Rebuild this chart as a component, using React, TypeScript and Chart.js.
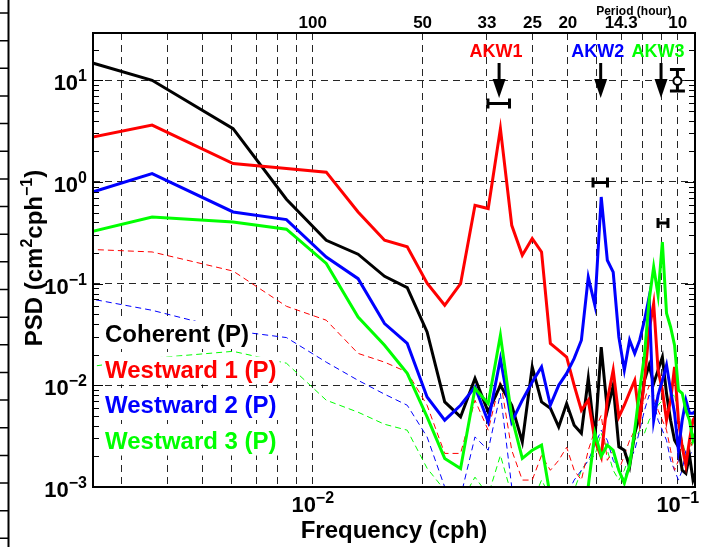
import React, { useEffect, useRef } from 'react';
import { Chart, registerables } from 'chart.js';

Chart.register(...registerables);

const FONT = '"Liberation Sans", Arial, Helvetica, sans-serif';

// Frequency (cph) of each spectral estimate
const FREQ = [
  0.00121, 0.00363, 0.00605, 0.00847, 0.01089, 0.01331, 0.01573, 0.01815, 0.02057, 0.02299,
  0.02541, 0.02783, 0.03025, 0.03267, 0.03509, 0.03751, 0.03993, 0.04235, 0.04477, 0.04719,
  0.04961, 0.05203, 0.05445, 0.05687, 0.05929, 0.06171, 0.06413, 0.06655, 0.06897, 0.07139,
  0.07381, 0.07623, 0.07865, 0.08107, 0.08349, 0.08591, 0.08833, 0.09075, 0.09317, 0.09559,
  0.09801, 0.10043, 0.10285, 0.10527, 0.10769, 0.11011, 0.11253,
];

// PSD (cm^2 cph^-1)
const COHERENT = [
  31.5, 10.0, 3.35, 0.676, 0.267, 0.195, 0.118, 0.0916, 0.0335, 0.00687,
  0.00489, 0.0117, 0.00548, 0.0100, 0.00637, 0.00278, 0.0152, 0.00687, 0.00595, 0.0039,
  0.00662, 0.00405, 0.00338, 0.0117, 0.0030, 0.0238, 0.00569, 0.0100, 0.00248, 0.0023,
  0.00158, 0.00336, 0.00508, 0.0112, 0.0158, 0.0104, 0.0141, 0.0190, 0.0083, 0.00454,
  0.00288, 0.00248, 0.00146, 0.00136, 0.00205, 0.00117, 0.00146,
];
const WEST1 = [
  1.64, 3.63, 1.52, 1.36, 1.25, 0.507, 0.267, 0.230, 0.101, 0.0613,
  0.100, 0.590, 0.548, 3.35, 0.375, 0.190, 0.278, 0.205, 0.0258, 0.0221,
  0.0190, 0.0100, 0.00569, 0.00714, 0.00288, 0.00198, 0.00714, 0.0141, 0.00489, 0.00637,
  0.00855, 0.0112, 0.00454, 0.0112, 0.0348, 0.0637, 0.0141, 0.00895, 0.00454, 0.00714,
  0.0152, 0.00454, 0.00248, 0.00164, 0.00288, 0.00454, 0.00508,
];
const WEST2 = [
  0.356, 1.21, 0.507, 0.427, 0.183, 0.112, 0.0405, 0.0258, 0.00769, 0.00454,
  0.00637, 0.00964, 0.00437, 0.0183, 0.00437, 0.00714, 0.0108, 0.0152, 0.00637, 0.0100,
  0.0131, 0.0184, 0.0278, 0.116, 0.0613, 0.712, 0.170, 0.130, 0.0299, 0.0141,
  0.0278, 0.0206, 0.0278, 0.0437, 0.074, 0.00454, 0.0080, 0.0112, 0.0158, 0.00895,
  0.00532, 0.0023, 0.00454, 0.00714, 0.00532, 0.00532, 0.00569,
];
const WEST3 = [
  0.175, 0.453, 0.404, 0.343, 0.158, 0.047, 0.0248, 0.0131, 0.00489, 0.00191,
  0.00152, 0.0093, 0.00662, 0.0311, 0.00489, 0.00191, 0.0023, 0.00258, 0.0008, 0.0006,
  0.0007, 0.0008, 0.0007, 0.00102, 0.00338, 0.00201, 0.00258, 0.0023, 0.00146, 0.00109,
  0.00164, 0.00362, 0.00895, 0.0198, 0.0687, 0.146, 0.0769, 0.257, 0.0512, 0.0375,
  0.0248, 0.00895, 0.00836, 0.00569, 0.00454, 0.00288, 0.00362,
];
// thin dashed companions
const WEST1_DASH = [
  0.241, 0.205, 0.133, 0.0599, 0.0437, 0.0206, 0.0169, 0.0135, 0.00637, 0.00214,
  0.00214, 0.00714, 0.00362, 0.0112, 0.0023, 0.00117, 0.00117, 0.00205, 0.00146, 0.00183,
  0.00246, 0.00146, 0.00117, 0.0023, 0.00362, 0.00508, 0.00183, 0.0023, 0.00146, 0.00205,
  0.00288, 0.00362, 0.00569, 0.00714, 0.0100, 0.0080, 0.00569, 0.00454, 0.00362, 0.0023,
  0.00146, 0.00183, 0.00288, 0.00183, 0.0023, 0.00288, 0.00288,
];
const WEST2_DASH = [
  0.114, 0.0547, 0.0344, 0.0295, 0.0169, 0.0112, 0.00818, 0.00637, 0.00311, 0.00100,
  0.0008, 0.00311, 0.0023, 0.0083, 0.00100, 0.0007, 0.0007, 0.00093, 0.0008, 0.0008,
  0.00083, 0.00117, 0.00146, 0.00183, 0.00258, 0.00362, 0.00288, 0.00183, 0.00146, 0.00117,
  0.00183, 0.0023, 0.00362, 0.00569, 0.0080, 0.00714, 0.00454, 0.00362, 0.00288, 0.00183,
  0.00146, 0.00117, 0.00146, 0.0023, 0.00205, 0.0023, 0.0023,
];
const WEST3_DASH = [
  0.0108, 0.0185, 0.0216, 0.0165, 0.00714, 0.00544, 0.00414, 0.00362, 0.00153, 0.00093,
  0.0007, 0.00125, 0.00083, 0.00205, 0.00083, 0.0007, 0.0007, 0.00117, 0.0008, 0.0007,
  0.0008, 0.00093, 0.00146, 0.00183, 0.00205, 0.00338, 0.0023, 0.00146, 0.00117, 0.00146,
  0.00205, 0.00288, 0.00362, 0.00338, 0.00454, 0.00532, 0.00637, 0.00714, 0.00569, 0.00714,
  0.00836, 0.00454, 0.00288, 0.00205, 0.00258, 0.00288, 0.00288,
];

// axes
const X_MIN = 0.0025;
const X_MAX = 0.1115;
const Y_MIN = 0.001;
const Y_MAX = 29.2;
const X_GRID = [0.003, 0.004, 0.005, 0.006, 0.007, 0.008, 0.009, 0.01, 0.02, 0.03, 0.04, 0.05, 0.06, 0.07, 0.08, 0.09, 0.1];
const X_LABEL_VALUES = [0.01, 0.1];
const X_LABEL_EXP = ['\u22122', '\u22121'];
const Y_DECADES = [0.001, 0.01, 0.1, 1, 10];
const Y_LABEL_EXP = ['\u22123', '\u22122', '\u22121', '0', '1'];
const PERIOD_VALUES = [0.01, 0.02, 0.03, 0.04, 0.05, 0.07, 0.1];
const PERIOD_LABELS = ['100', '50', '33', '25', '20', '14.3', '10'];

// legend
const LEGEND_LABELS = ['Coherent (P)', 'Westward 1 (P)', 'Westward 2 (P)', 'Westward 3 (P)'];
const LEGEND_COLORS = ['#000000', '#ff0000', '#0000ff', '#00ff00'];

// annotations
const PEAK_NAMES = ['AKW1', 'AKW2', 'AKW3'];
const PEAK_COLORS = ['#ff0000', '#0000ff', '#00ff00'];
const PEAK_FREQ = [0.0324, 0.0615, 0.0900];
const PEAK_BAND_LO = [0.0302, 0.0586, 0.0883];
const PEAK_BAND_HI = [0.0346, 0.0642, 0.0940];
const PEAK_BAND_PSD = [5.9, 0.986, 0.395];
const CI_FREQ = 0.0998;
const CI_LO = 7.85;
const CI_MID = 9.84;
const CI_HI = 12.8;

function drawPow(ctx: CanvasRenderingContext2D, x: number, baseline: number, exp: string, align: 'right' | 'center') {
  const big = `bold 22px ${FONT}`;
  const small = `bold 16px ${FONT}`;
  ctx.font = big;
  const w1 = ctx.measureText('10').width;
  ctx.font = small;
  const w2 = ctx.measureText(exp).width;
  const total = w1 + w2;
  const x0 = align === 'right' ? x - total : x - total / 2;
  ctx.textAlign = 'left';
  ctx.textBaseline = 'alphabetic';
  ctx.font = big;
  ctx.fillText('10', x0, baseline);
  ctx.font = small;
  ctx.fillText(exp, x0 + w1, baseline - 9);
}

const decorPlugin = {
  id: 'decor',
  beforeDraw(chart: any) {
    // edge of neighbouring panel (cropped)
    const ctx: CanvasRenderingContext2D = chart.ctx;
    ctx.save();
    ctx.strokeStyle = '#000';
    ctx.lineWidth = 2;
    ctx.beginPath();
    ctx.moveTo(8.5, 0);
    ctx.lineTo(8.5, chart.height);
    ctx.stroke();
    ctx.lineWidth = 1.5;
    ctx.beginPath();
    for (let yy = 13; yy < chart.height; yy += 27.65) {
      ctx.moveTo(0, yy);
      ctx.lineTo(8, yy);
    }
    ctx.stroke();
    ctx.restore();
  },
  afterDatasetsDraw(chart: any) {
    const ctx: CanvasRenderingContext2D = chart.ctx;
    const a = chart.chartArea;
    const xs = chart.scales.x;
    const ys = chart.scales.y;
    ctx.save();
    // legend with white boxes
    ctx.font = `bold 24px ${FONT}`;
    ctx.textAlign = 'left';
    ctx.textBaseline = 'alphabetic';
    LEGEND_LABELS.forEach((t, i) => {
      const bx = a.left + 12;
      const by = a.top + 309 + i * 35.5;
      const w = ctx.measureText(t).width;
      ctx.fillStyle = '#ffffff';
      ctx.fillRect(bx - 3, by - 21, w + 6, 28);
      ctx.fillStyle = LEGEND_COLORS[i];
      ctx.fillText(t, bx, by);
    });
    // peak labels, arrows and bandwidth bars
    PEAK_FREQ.forEach((f, i) => {
      const px = xs.getPixelForValue(f);
      ctx.font = `bold 18px ${FONT}`;
      ctx.textAlign = 'center';
      ctx.fillStyle = PEAK_COLORS[i];
      ctx.fillText(PEAK_NAMES[i], px - 3, a.top + 24);
      ctx.strokeStyle = '#000';
      ctx.fillStyle = '#000';
      ctx.lineWidth = 3;
      ctx.beginPath();
      ctx.moveTo(px, a.top + 30);
      ctx.lineTo(px, a.top + 50);
      ctx.stroke();
      ctx.beginPath();
      ctx.moveTo(px - 6.5, a.top + 46);
      ctx.lineTo(px + 6.5, a.top + 46);
      ctx.lineTo(px, a.top + 65);
      ctx.closePath();
      ctx.fill();
      const x1 = xs.getPixelForValue(PEAK_BAND_LO[i]);
      const x2 = xs.getPixelForValue(PEAK_BAND_HI[i]);
      const py = ys.getPixelForValue(PEAK_BAND_PSD[i]);
      ctx.beginPath();
      ctx.moveTo(x1, py);
      ctx.lineTo(x2, py);
      ctx.moveTo(x1, py - 5);
      ctx.lineTo(x1, py + 5);
      ctx.moveTo(x2, py - 5);
      ctx.lineTo(x2, py + 5);
      ctx.stroke();
    });
    // confidence interval
    const cx = xs.getPixelForValue(CI_FREQ);
    const yTop = ys.getPixelForValue(CI_HI);
    const yBot = ys.getPixelForValue(CI_LO);
    const yMid = ys.getPixelForValue(CI_MID);
    ctx.strokeStyle = '#000';
    ctx.lineWidth = 3;
    ctx.beginPath();
    ctx.moveTo(cx, yTop);
    ctx.lineTo(cx, yBot);
    ctx.moveTo(cx - 7.5, yTop);
    ctx.lineTo(cx + 7.5, yTop);
    ctx.moveTo(cx - 7.5, yBot);
    ctx.lineTo(cx + 7.5, yBot);
    ctx.stroke();
    ctx.beginPath();
    ctx.arc(cx, yMid, 4, 0, Math.PI * 2);
    ctx.fillStyle = '#fff';
    ctx.fill();
    ctx.lineWidth = 2;
    ctx.stroke();
    ctx.restore();
  },
  afterDraw(chart: any) {
    const ctx: CanvasRenderingContext2D = chart.ctx;
    const a = chart.chartArea;
    const xs = chart.scales.x;
    const ys = chart.scales.y;
    ctx.save();
    ctx.strokeStyle = '#000';
    ctx.fillStyle = '#000';
    // frame
    ctx.lineWidth = 2;
    ctx.strokeRect(a.left, a.top, a.right - a.left, a.bottom - a.top);
    // inward y ticks (left & right)
    ctx.lineWidth = 1;
    ctx.beginPath();
    for (let k = -3; k <= 1; k++) {
      for (let m = 1; m <= 9; m++) {
        const v = m * Math.pow(10, k);
        if (v < Y_MIN || v > Y_MAX) continue;
        const py = Math.round(ys.getPixelForValue(v)) + 0.5;
        const len = m === 1 ? 10 : 6;
        ctx.moveTo(a.left, py);
        ctx.lineTo(a.left + len, py);
        ctx.moveTo(a.right, py);
        ctx.lineTo(a.right - len, py);
      }
    }
    ctx.stroke();
    // y tick labels
    Y_DECADES.forEach((v, i) => {
      const py = ys.getPixelForValue(v);
      drawPow(ctx, a.left - 6, py + 10, Y_LABEL_EXP[i], 'right');
    });
    // x tick labels
    X_LABEL_VALUES.forEach((v, i) => {
      const px = xs.getPixelForValue(v);
      drawPow(ctx, px, a.bottom + 25, X_LABEL_EXP[i], 'center');
    });
    // period labels on top
    ctx.font = `bold 17px ${FONT}`;
    ctx.textAlign = 'center';
    ctx.textBaseline = 'alphabetic';
    PERIOD_VALUES.forEach((v, i) => {
      ctx.fillText(PERIOD_LABELS[i], xs.getPixelForValue(v), a.top - 5);
    });
    ctx.font = `bold 12px ${FONT}`;
    ctx.fillText('Period (hour)', xs.getPixelForValue(0.0758), 15);
    // x title
    ctx.font = `bold 24px ${FONT}`;
    ctx.fillText('Frequency (cph)', (a.left + a.right) / 2, a.bottom + 51);
    // y title (rotated, with superscripts)
    const segs: [string, boolean][] = [['PSD (cm', false], ['2', true], ['cph', false], ['\u22121', true], [')', false]];
    const bigF = `bold 24px ${FONT}`;
    const supF = `bold 16px ${FONT}`;
    let total = 0;
    segs.forEach(([t, sup]) => {
      ctx.font = sup ? supF : bigF;
      total += ctx.measureText(t).width;
    });
    ctx.translate(41.5, (a.top + a.bottom) / 2 - 2);
    ctx.rotate(-Math.PI / 2);
    ctx.textAlign = 'left';
    let cxp = -total / 2;
    segs.forEach(([t, sup]) => {
      ctx.font = sup ? supF : bigF;
      ctx.fillText(t, cxp, sup ? -10 : 0);
      cxp += ctx.measureText(t).width;
    });
    ctx.restore();
  },
};

export default function App() {
  const ref = useRef<HTMLCanvasElement>(null);
  useEffect(() => {
    const canvas = ref.current;
    if (!canvas) return;
    const mk = (vals: number[]) => FREQ.map((f, i) => ({ x: f, y: vals[i] }));
    const solid = (label: string, vals: number[], color: string, order: number) => ({
      label, data: mk(vals), borderColor: color, backgroundColor: color, borderWidth: 3,
      pointRadius: 0, tension: 0, fill: false, order,
    });
    const dashed = (label: string, vals: number[], color: string, order: number) => ({
      label, data: mk(vals), borderColor: color, backgroundColor: color, borderWidth: 1,
      borderDash: [6, 4], pointRadius: 0, tension: 0, fill: false, order,
    });
    const chart = new Chart(canvas, {
      type: 'line',
      data: {
        datasets: [
          solid('Westward 3 (P)', WEST3, '#00ff00', 0),
          solid('Westward 2 (P)', WEST2, '#0000ff', 1),
          solid('Westward 1 (P)', WEST1, '#ff0000', 2),
          solid('Coherent (P)', COHERENT, '#000000', 3),
          dashed('Westward 1 (dashed)', WEST1_DASH, '#ff0000', 4),
          dashed('Westward 2 (dashed)', WEST2_DASH, '#0000ff', 5),
          dashed('Westward 3 (dashed)', WEST3_DASH, '#00ff00', 6),
        ] as any,
      },
      options: {
        responsive: false,
        maintainAspectRatio: false,
        devicePixelRatio: 1,
        animation: false,
        layout: { padding: { top: 33, right: 7, left: 0, bottom: 0 } },
        plugins: { legend: { display: false }, tooltip: { enabled: false }, title: { display: false } },
        scales: {
          x: {
            type: 'logarithmic',
            position: 'bottom',
            min: X_MIN,
            max: X_MAX,
            afterBuildTicks: (s: any) => { s.ticks = X_GRID.map((v) => ({ value: v })); },
            afterFit: (s: any) => { s.height = 60; },
            ticks: { display: false },
            grid: { color: 'rgba(0,0,0,0.85)', lineWidth: 1, drawTicks: false, tickLength: 0 },
            border: { display: false, dash: [7, 5] },
          },
          y: {
            type: 'logarithmic',
            position: 'left',
            min: Y_MIN,
            max: Y_MAX,
            afterBuildTicks: (s: any) => { s.ticks = Y_DECADES.map((v) => ({ value: v })); },
            afterFit: (s: any) => { s.width = 93; },
            ticks: { display: false },
            grid: { color: 'rgba(0,0,0,0.85)', lineWidth: 1, drawTicks: false, tickLength: 0 },
            border: { display: false, dash: [7, 5] },
          },
        },
      } as any,
      plugins: [decorPlugin as any],
    });
    return () => chart.destroy();
  }, []);
  return (
    <div style={{ position: 'fixed', left: 0, top: 0, width: 702, height: 547, background: '#fff' }}>
      <canvas ref={ref} width={702} height={547} style={{ display: 'block', width: 702, height: 547 }} />
    </div>
  );
}
